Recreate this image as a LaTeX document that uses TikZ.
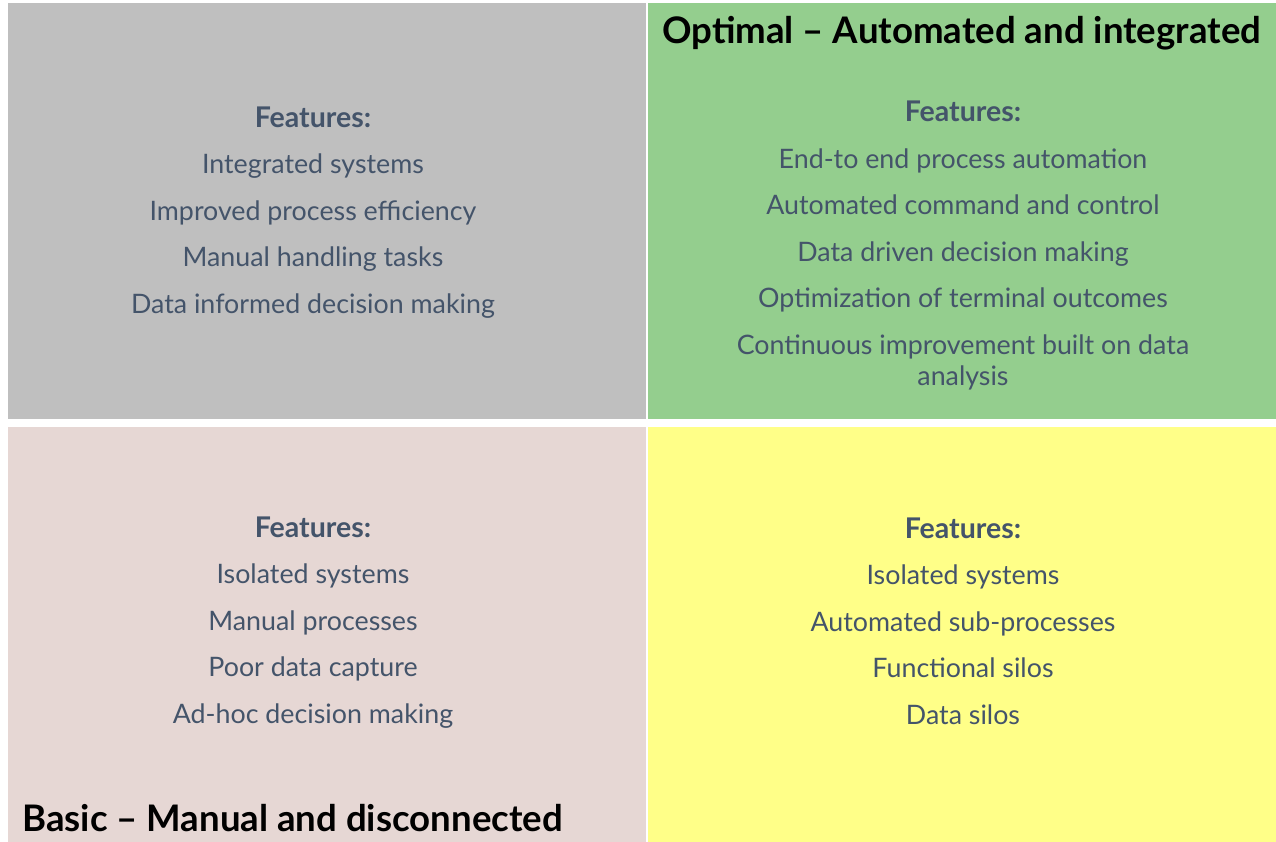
\documentclass[tikz,border=0pt]{standalone}
\usepackage{fontspec}
\setmainfont{Lato}
\usepackage{xcolor}
\usetikzlibrary{positioning}
\definecolor{quadgray}{HTML}{BFBFBF}
\definecolor{quadgreen}{HTML}{94CE8E}
\definecolor{quadpink}{HTML}{E6D7D4}
\definecolor{quadyellow}{HTML}{FFFF88}
\definecolor{featuretext}{HTML}{44546A}
\tikzset{
  features/.style={
     align=center,
     text=featuretext,
     inner sep=0pt,
     font=\fontsize{26.8}{31}\selectfont},
  quadtitle/.style={
     inner sep=0pt,
     font=\fontsize{36.6}{40}\selectfont\bfseries}
}
\newcommand{\fhead}{{\fontsize{28.5}{31}\selectfont\bfseries Features:}}
\begin{document}
\begin{tikzpicture}[x=1pt, y=-1pt]
  \useasboundingbox (0,0) rectangle (1276,842);
  % Quadrants
  \fill[quadgray]   (8,3)     rectangle (646,419);
  \fill[quadgreen]  (648,3)   rectangle (1276,419);
  \fill[quadpink]   (8,427)   rectangle (646,842);
  \fill[quadyellow] (648,427) rectangle (1276,842);

  % Feature lists
  \node[features] (integrated) at (313,212.5) {\fhead\\[15.5pt]
    Integrated systems\\[15.5pt]
    Improved process efficiency\\[15.5pt]
    Manual handling tasks\\[15.5pt]
    Data informed decision making};
  \node[features] (optimal) at (963,245.5) {\fhead\\[15.5pt]
    End-to end process automation\\[15.5pt]
    Automated command and control\\[15.5pt]
    Data driven decision making\\[15.5pt]
    Optimization of terminal outcomes\\[15.5pt]
    Continuous improvement built on data\\
    analysis};
  \node[features] (basic) at (313,622.5) {\fhead\\[15.5pt]
    Isolated systems\\[15.5pt]
    Manual processes\\[15.5pt]
    Poor data capture\\[15.5pt]
    Ad-hoc decision making};
  \node[features] (siloed) at (963,621) {\fhead\\[15.5pt]
    Isolated systems\\[15.5pt]
    Automated sub-processes\\[15.5pt]
    Functional silos\\[15.5pt]
    Data silos};

  % Titles
  \node[quadtitle, anchor=west] (optimaltitle) at (662,33) {Optimal – Automated and integrated};
  \node[quadtitle, anchor=west] (basictitle) at (22,818) {Basic – Manual and disconnected};
\end{tikzpicture}
\end{document}
